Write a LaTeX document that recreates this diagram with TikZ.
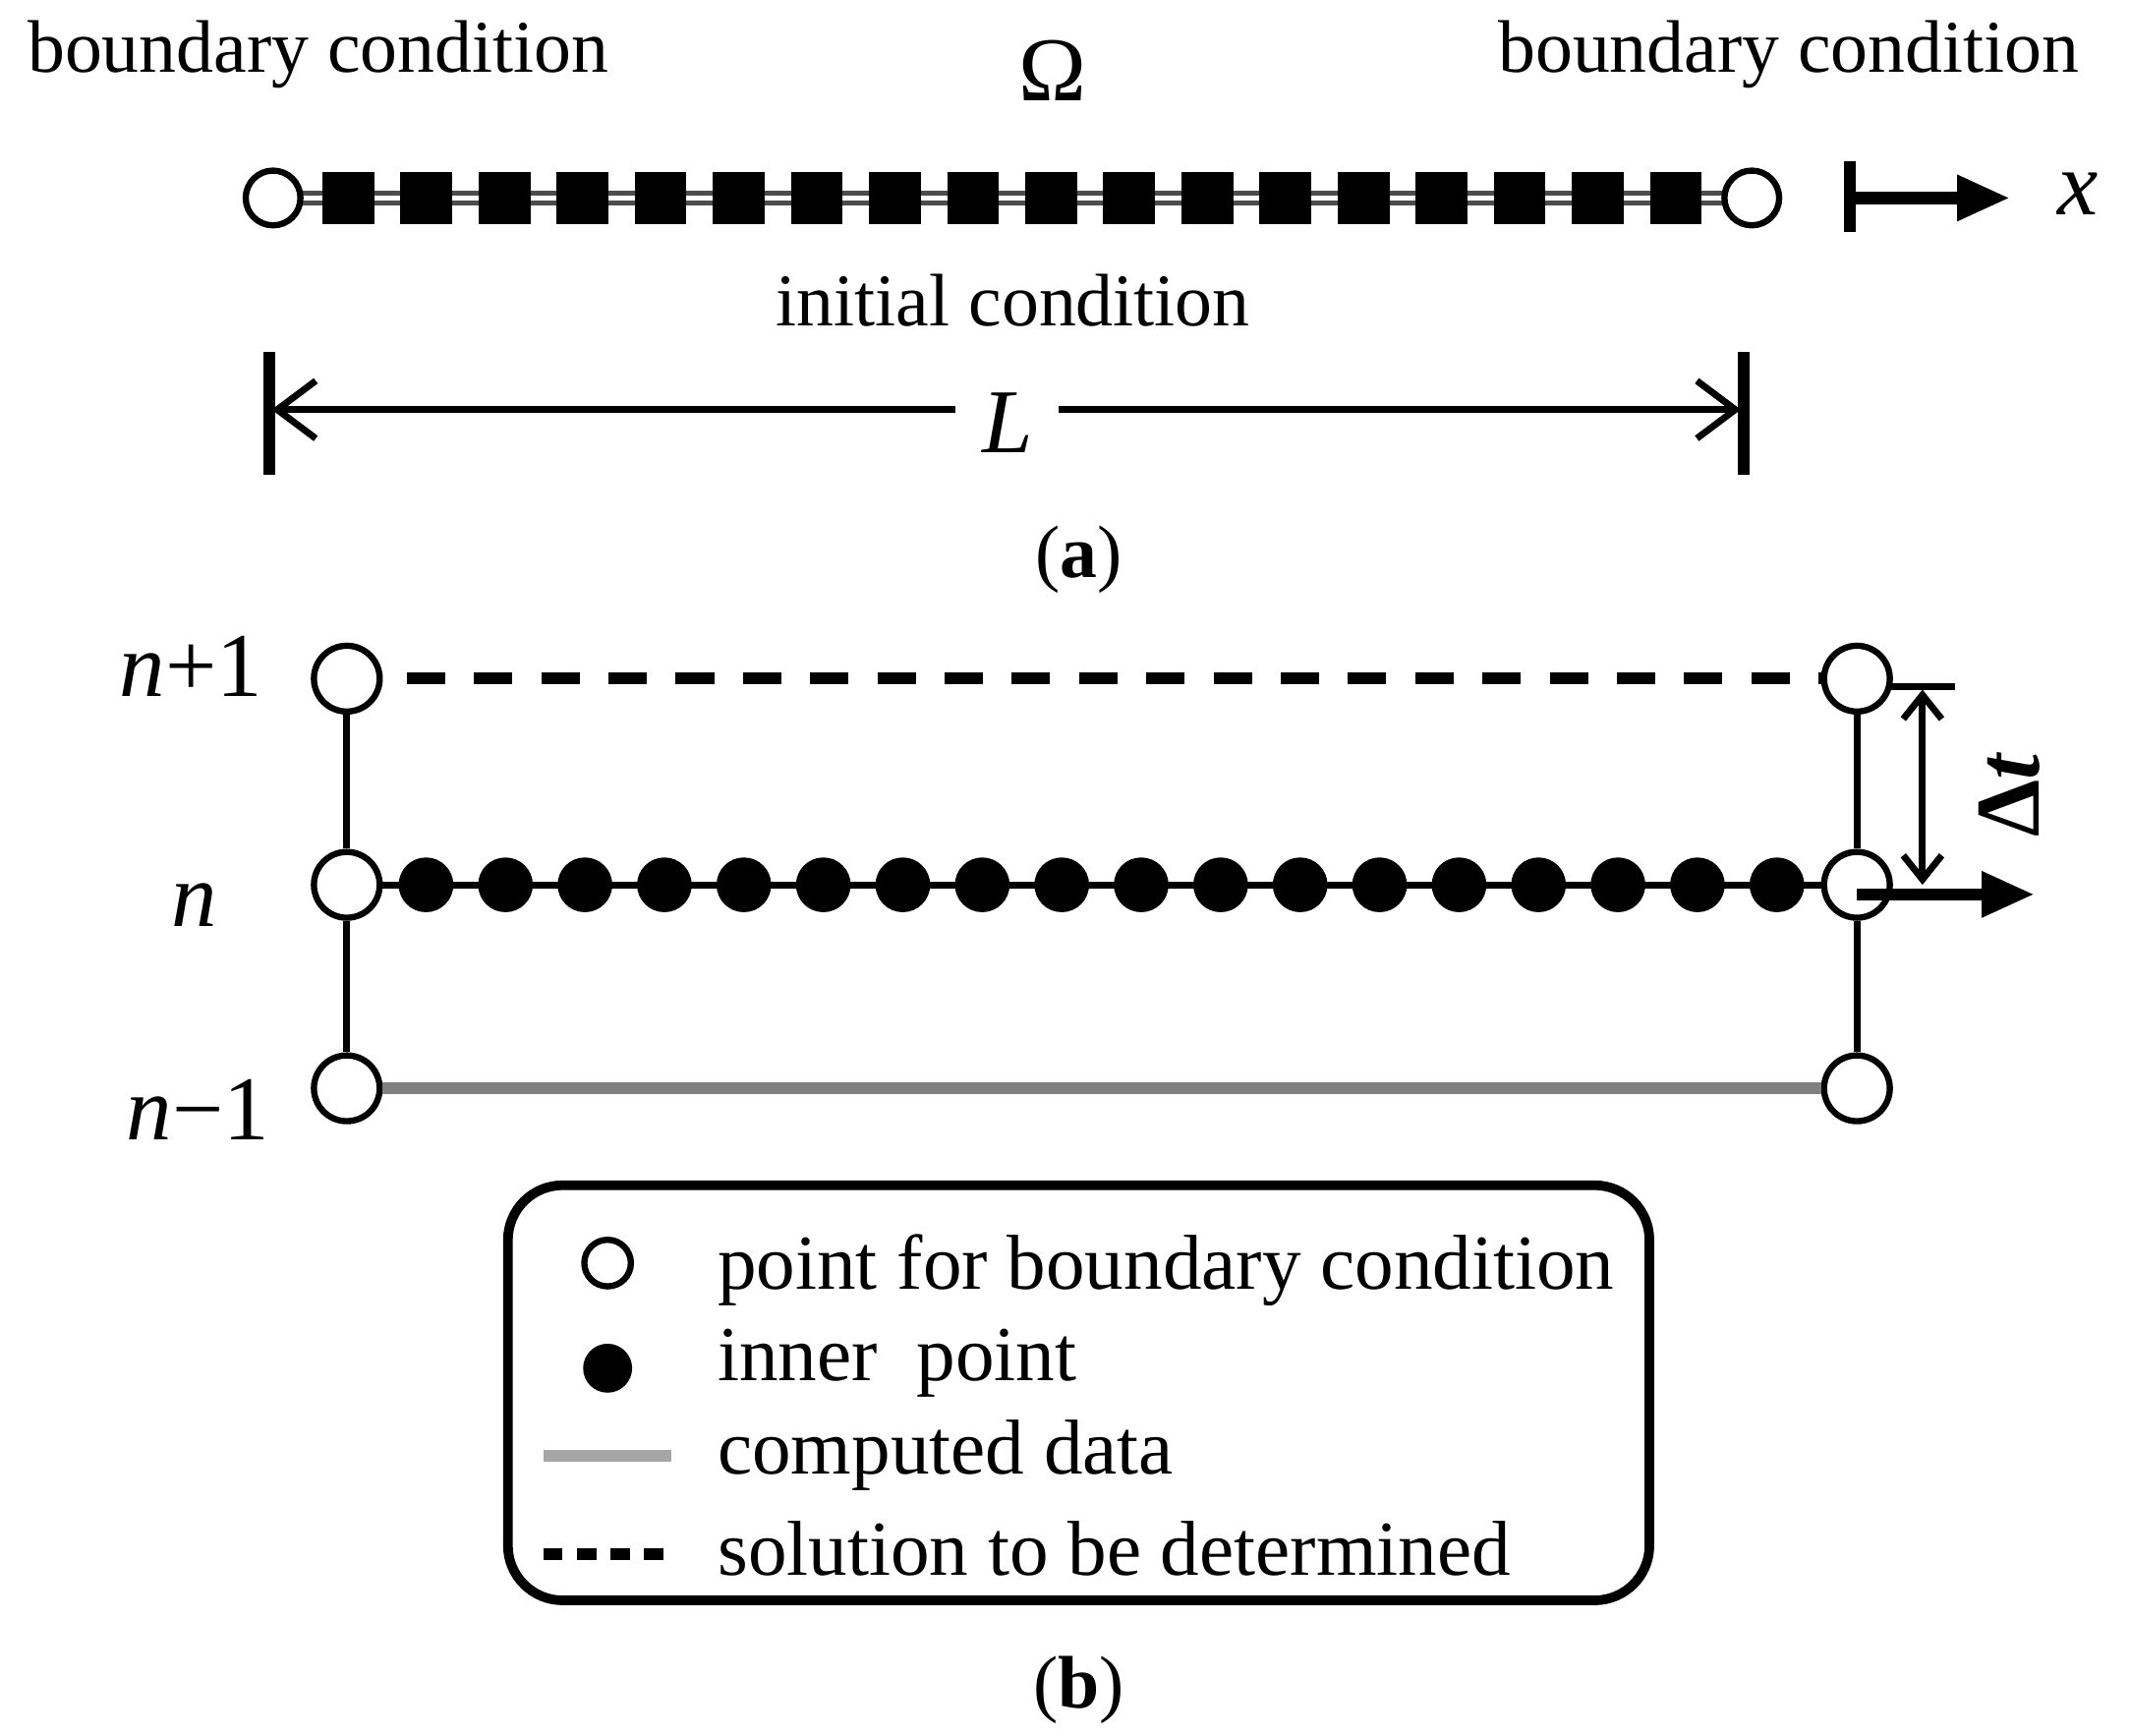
\documentclass[tikz,border=0pt]{standalone}
\usepackage{fontspec}
\setmainfont{Liberation Serif}
\usetikzlibrary{arrows.meta}
\begin{document}
\begin{tikzpicture}[x=0.01cm,y=-0.01cm,
  txt/.style={inner sep=0pt,font=\fontsize{15.5}{18}\selectfont},
  big/.style={inner sep=0pt,font=\fontsize{19}{22}\selectfont},
  leg/.style={inner sep=0pt,anchor=west,font=\fontsize{16.2}{20}\selectfont},
  open/.style={circle,draw,line width=1.3pt,fill=white,minimum size=#1,inner sep=0pt},
  dot/.style={circle,fill=black,minimum size=#1,inner sep=0pt},
  sq/.style={fill=black,minimum size=10.8pt,inner sep=0pt},
  arr/.style={-{Straight Barb[length=8pt,width=12pt]},line width=1.4pt}]
\useasboundingbox (0,0) rectangle (1560,1271);
% (a)
\node[txt] (bcl) at (233,40) {boundary condition};
\node[txt] (bcr) at (1310,40) {boundary condition};
\node[big] (om) at (771,52) {Ω};
\draw[line width=3pt,black!70] (200,145) -- (1283,145);
\draw[line width=1pt,white] (200,145) -- (1283,145);
\foreach \i in {0,...,17} \node[sq] (s\i) at (255+57.2*\i,145) {};
\node[open=11.4pt] (al) at (200,145) {};
\node[open=11.4pt] (ar) at (1283,145) {};
\coordinate (xs) at (1355,145); \coordinate (xe) at (1472,145);
\draw[line width=2.5pt] (1355,118) -- (1355,170);
\draw[-{Triangle[length=11pt,width=9pt]},line width=2.5pt] (xs) -- (xe);
\node[big] (xl) at (1522,142) {\textit{x}};
\node[txt] (ic) at (742,220) {initial condition};
\draw[line width=2.5pt] (197,258) -- (197,348) (1277,258) -- (1277,348);
\node[big] (L) at (738,310) {\textit{L}};
\coordinate (La) at (199,300); \coordinate (Lb) at (1275,300);
\draw[arr] (700,300) -- (La);
\draw[arr] (775,300) -- (Lb);
\node[txt] (la) at (790,410) {(\textbf{a})};
% (b)
\node[open=13.7pt] (l1) at (254,497) {};
\node[open=13.7pt] (l2) at (254,648) {};
\node[open=13.7pt] (l3) at (254,797) {};
\node[open=13.7pt] (r1) at (1360,497) {};
\node[open=13.7pt] (r2) at (1360,648) {};
\node[open=13.7pt] (r3) at (1360,797) {};
\draw[line width=1.4pt] (l1) -- (l2) -- (l3) (r1) -- (r2) -- (r3);
\draw[line width=2.5pt,dash pattern=on 8pt off 6pt,shorten <=5pt] (l1) -- (r1);
\draw[line width=2.5pt,black!50] (l3) -- (r3);
\draw[line width=1.4pt] (l2) -- (r2);
\foreach \i in {0,...,17} \node[dot=11.4pt] (d\i) at (312+58.2*\i,648) {};
\node[big] (n1) at (140,488) {\textit{n}+1};
\node[big] (n0) at (142,663) {\textit{n}};
\node[big] (nm) at (145,813) {\textit{n}−1};
\draw[line width=1.4pt] (1385,503) -- (1432,503);
\coordinate (ta) at (1408,505); \coordinate (tb) at (1408,648);
\draw[{Straight Barb[length=5pt,width=8pt]}-{Straight Barb[length=5pt,width=8pt]},line width=1.4pt] (ta) -- (tb);
\node[big,rotate=90] (dt) at (1472,582) {\textbf{Δ\textit{t}}};
\coordinate (ts) at (1360,655); \coordinate (te) at (1490,655);
\draw[-{Triangle[length=11pt,width=9pt]},line width=2.5pt] (ts) -- (te);
% legend
\draw[line width=2pt,rounded corners=11.4pt] (372,868) rectangle (1208,1172);
\node[open=9.7pt] (g1) at (445,925) {};
\node[dot=10.2pt] (g2) at (445,1002) {};
\draw[line width=2.5pt,black!35] (398,1066) -- (492,1066);
\draw[line width=2.5pt,dash pattern=on 4pt off 3pt] (398,1138) -- (492,1138);
\node[leg] (t1) at (525,930) {point for boundary condition};
\node[leg] (t2) at (525,998) {inner\ \ point};
\node[leg] (t3) at (525,1066) {computed data};
\node[leg] (t4) at (525,1134) {solution to be determined};
\node[txt] (lb) at (790,1238) {(\textbf{b})};
\end{tikzpicture}
\end{document}
